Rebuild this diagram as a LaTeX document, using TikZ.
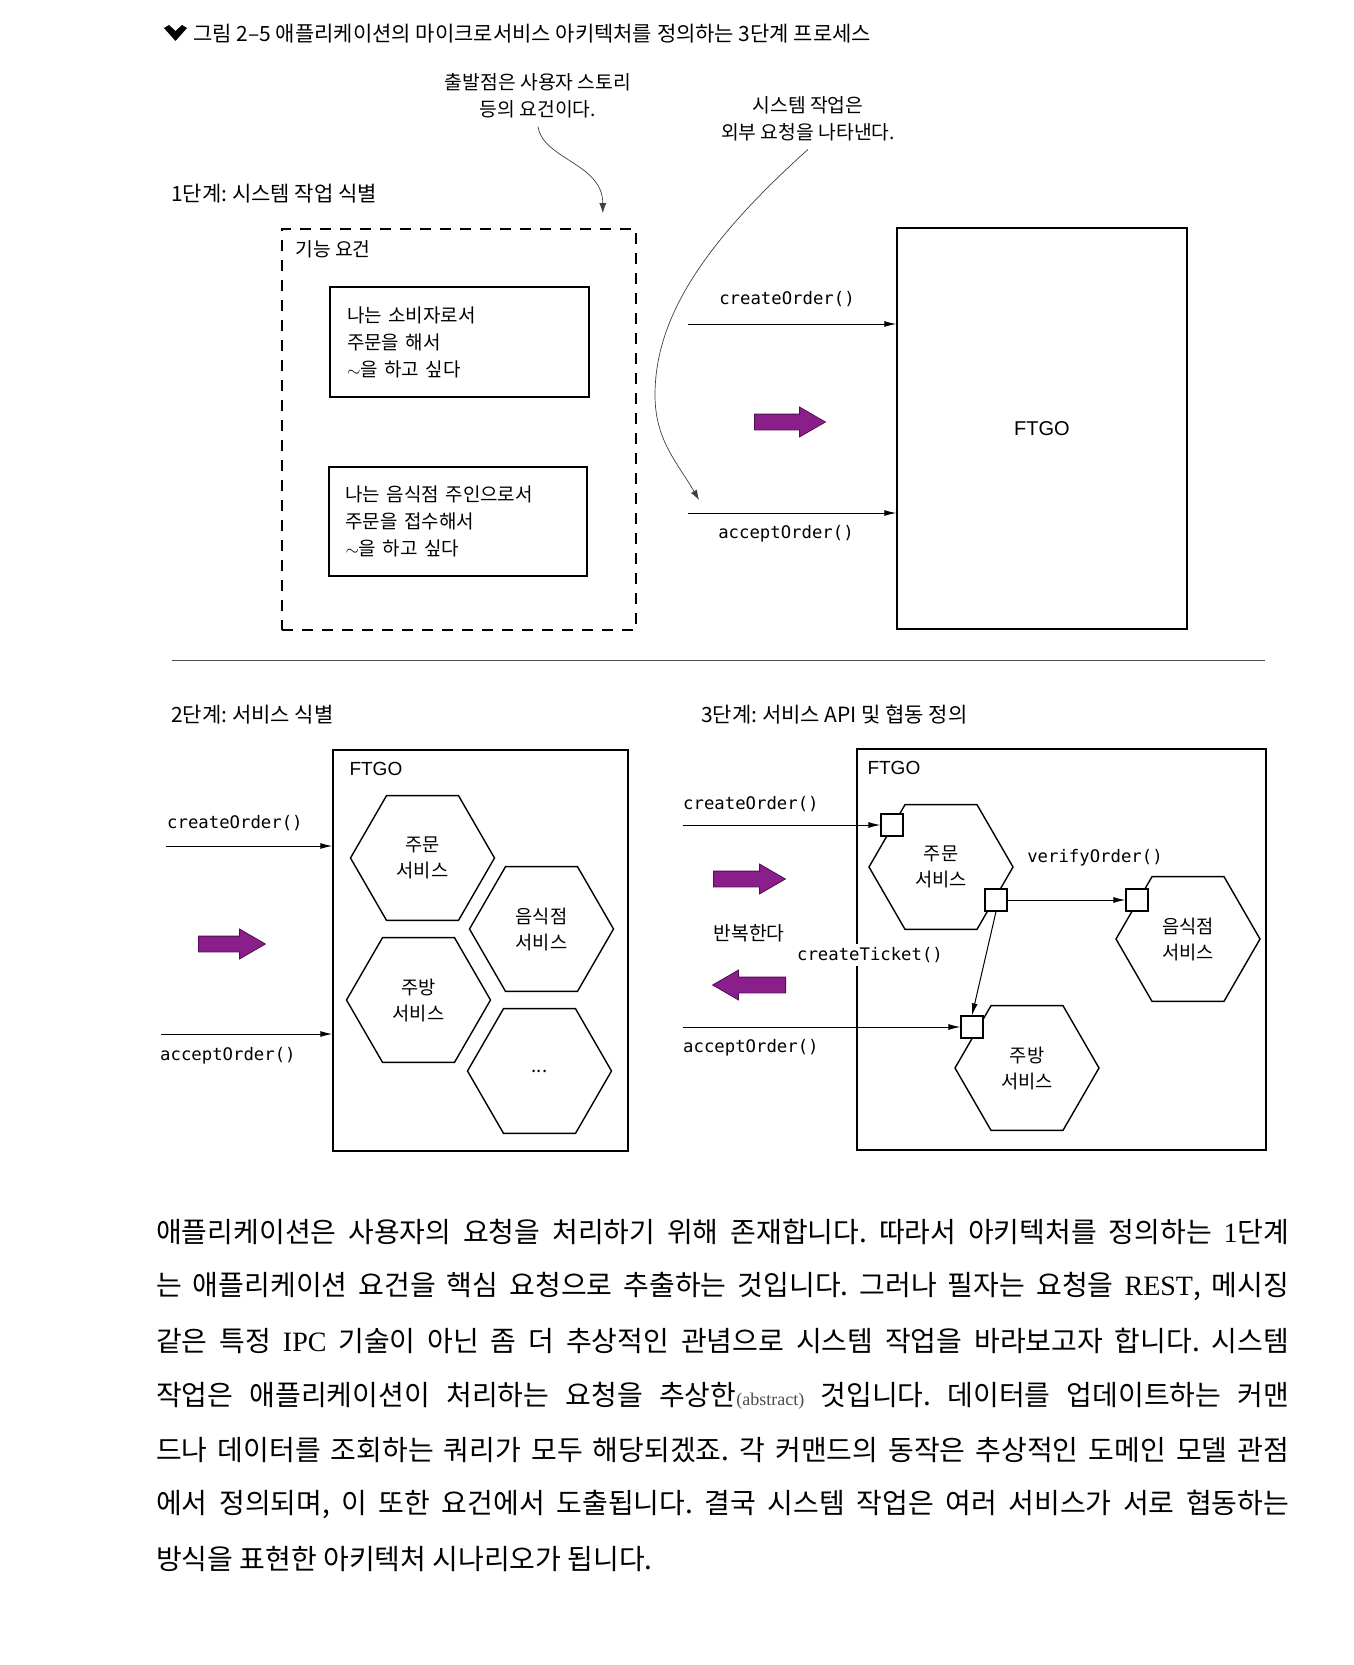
\documentclass[tikz,border=0pt]{standalone}
\usepackage{fontspec}
\setmainfont{Noto Sans CJK KR}
\newfontfamily\codefont{DejaVu Sans Mono}
\newfontfamily\ftgofont{Liberation Sans}
\newfontfamily\latinserif{Liberation Serif}
\usetikzlibrary{calc,shapes.geometric,shapes.arrows,arrows.meta}
\definecolor{spurple}{HTML}{8A1F8C}
\definecolor{spurpled}{HTML}{4F0E52}
\newcommand{\parline}[1]{\makebox[1133pt][s]{#1}}
\frenchspacing

\begin{document}
\begin{tikzpicture}[x=1pt,y=-1pt,
    BOX/.style={draw=black,line width=1.4pt,rectangle,inner sep=0pt},
    DBOX/.style={draw=black,line width=1.6pt,rectangle,dash pattern=on 11pt off 9pt},
    HEX/.style={draw=black,line width=1.4pt,regular polygon,regular polygon sides=6,minimum size=144pt,inner sep=0pt,align=center,font=\fontsize{18.7}{26}\selectfont},
    PORT/.style={draw=black,line width=1.2pt,fill=white,rectangle,minimum size=22pt,inner sep=0pt},
    AR/.style={-{Latex[length=12pt,width=6pt]},line width=1pt},
    NOTE/.style={-{Latex[length=10pt,width=7pt]},line width=0.7pt,draw=black!75},
    PUR/.style={single arrow,draw=spurpled,line width=0.8pt,fill=spurple,single arrow head extend=7pt,single arrow tip angle=60,inner sep=0pt,anchor=tail},
    CODE/.style={font=\codefont\fontsize{17.3}{20}\selectfont,inner sep=0pt},
    TXT/.style={font=\fontsize{21}{26}\selectfont,inner sep=0pt},
    SMALL/.style={font=\fontsize{19.3}{27}\selectfont,inner sep=0pt},
    PAR/.style={font=\fontsize{28}{32}\selectfont,inner sep=0pt}]
    \useasboundingbox (0,0) rectangle (1354,1665);
    \fill[white] (0,0) rectangle (1354,1665);
    % FIGURE CAPTION
    \fill (164,28) -- (169,25) -- (175.5,31) -- (182,25) -- (187,28) -- (175.5,41) -- cycle;
    \node[TXT,anchor=west] (caption) at (193,34) {그림 2–5 애플리케이션의 마이크로서비스 아키텍처를 정의하는 3단계 프로세스};
    % Callouts above step 1
    \node[SMALL,align=center] (note1) at (538,96) {출발점은 사용자 스토리\\등의 요건이다.};
    \node[SMALL,align=center] (note2) at (808,119) {시스템 작업은\\외부 요청을 나타낸다.};
    % STEP 1 : requirements -> system operations
    \node[TXT,anchor=west] (step1) at (171,194) {1단계: 시스템 작업 식별};
    \node[DBOX,minimum width=354pt,minimum height=401pt] (reqbox) at (459,429.5) {};
    \node[SMALL,anchor=west] (reqlbl) at ($(reqbox.north west)+(14,21)$) {기능 요건};
    \node[BOX,minimum width=259pt,minimum height=110pt,text width=225pt,align=left,font=\fontsize{19}{27}\selectfont] (story1) at (459.5,342) {나는 소비자로서\\주문을 해서\\$\sim$을 하고 싶다};
    \node[BOX,minimum width=258pt,minimum height=109pt,text width=225pt,align=left,font=\fontsize{19}{27}\selectfont] (story2) at (458,521.5) {나는 음식점 주인으로서\\주문을 접수해서\\$\sim$을 하고 싶다};
    \node[BOX,minimum width=290pt,minimum height=401pt,font=\ftgofont\fontsize{20}{24}\selectfont] (ftgo1) at (1042,428.5) {FTGO};
    \coordinate (in1a) at (688,324);
    \coordinate (in1b) at (688,513);
    \draw[AR] (in1a) -- (in1a -| ftgo1.west);
    \draw[AR] (in1b) -- (in1b -| ftgo1.west);
    \node[CODE] (lco1) at ($(in1a)+(99,-25)$) {createOrder()};
    \node[CODE] (lao1) at ($(in1b)+(98,21)$) {acceptOrder()};
    \node[PUR,minimum height=71pt] (big1) at (754,422) {\rule{0pt}{15pt}};
    % callout curves
    \coordinate (reqtip) at ($(reqbox.north east)+(-34,-15)$);
    \coordinate (optip) at (699,500);
    \draw[NOTE] ($(note1.south)+(0,8)$) .. controls +(5,33) and +(0,-50) .. (reqtip);
    \draw[NOTE] ($(note2.south)+(0,8)$) .. controls +(-107,96) and +(0,-75) .. (655,395) .. controls +(0,45) and +(-22,-38) .. (optip);
    % separator
    \draw[line width=1pt,black!70] (172,660) -- (1265,660);
    % STEP 2 : services
    \node[TXT,anchor=west] (step2) at (171,715) {2단계: 서비스 식별};
    \node[BOX,minimum width=295pt,minimum height=401pt] (ftgo2) at (480.5,950.5) {};
    \node[anchor=west,inner sep=0pt,font=\ftgofont\fontsize{19}{24}\selectfont] (ftgolbl2) at ($(ftgo2.north west)+(17,20)$) {FTGO};
    \node[HEX] (order2) at (422.5,858) {주문\\서비스};
    \node[HEX] (rest2) at (541.5,929) {음식점\\서비스};
    \node[HEX] (kitchen2) at (418.5,1000) {주방\\서비스};
    \node[HEX] (more2) at (539.5,1071) {...};
    \coordinate (in2a) at (166,846);
    \coordinate (in2b) at (161,1034);
    \draw[AR] (in2a) -- (in2a -| ftgo2.west);
    \draw[AR] (in2b) -- (in2b -| ftgo2.west);
    \node[CODE,anchor=west] (lco2) at ($(in2a)+(1,-23)$) {createOrder()};
    \node[CODE,anchor=west] (lao2) at ($(in2b)+(-1,22)$) {acceptOrder()};
    \node[PUR,minimum height=67pt] (big2) at (198,944) {\rule{0pt}{15pt}};
    % STEP 3 : APIs and collaboration
    \node[TXT,anchor=west] (step3) at (701,715) {3단계: 서비스 API 및 협동 정의};
    \node[BOX,minimum width=409pt,minimum height=401pt] (ftgo3) at (1061.5,949.5) {};
    \node[anchor=west,inner sep=0pt,font=\ftgofont\fontsize{19}{24}\selectfont] (ftgolbl3) at ($(ftgo3.north west)+(11,20)$) {FTGO};
    \node[HEX] (order3) at (941,867) {주문\\서비스};
    \node[HEX] (rest3) at (1188,939) {음식점\\서비스};
    \node[HEX] (kitchen3) at (1027,1068) {주방\\서비스};
    % ports
    \node[PORT] (pin) at (892,825) {};
    \node[PORT] (pout) at (996,900) {};
    \node[PORT] (prest) at (1137,900) {};
    \node[PORT] (pkit) at (972,1027) {};
    \coordinate (in3a) at (683,825);
    \coordinate (in3b) at (683,1027);
    \draw[AR] (in3a) -- (pin.west);
    \draw[AR] (in3b) -- (pkit.west);
    \draw[AR] (pout.east) -- (prest.west);
    \draw[AR] (pout.south) -- (pkit.north);
    \node[CODE,anchor=west] (lco3) at ($(in3a)+(0,-21)$) {createOrder()};
    \node[CODE,anchor=west] (lao3) at ($(in3b)+(0,21)$) {acceptOrder()};
    \node[CODE] (lvo3) at (1095,858) {verifyOrder()};
    \node[CODE,fill=white,inner xsep=2pt,inner ysep=3pt] (lct3) at (870,955) {createTicket()};
    \node[PUR,minimum height=72pt] (big3) at (713,879) {\rule{0pt}{15pt}};
    \node[SMALL] (repeat) at (749,933) {반복한다};
    \node[PUR,minimum height=73pt,shape border rotate=180] (big4) at (786,985) {\rule{0pt}{15pt}};
    % BODY TEXT
    \node[PAR,anchor=west] (par1) at (156,1232) {\parline{애플리케이션은 사용자의 요청을 처리하기 위해 존재합니다. 따라서 아키텍처를 정의하는 {\latinserif 1}단계}};
    \node[PAR,anchor=west] (par2) at ($(par1.west)+(0,54.5)$) {\parline{는 애플리케이션 요건을 핵심 요청으로 추출하는 것입니다. 그러나 필자는 요청을 {\latinserif REST}, 메시징}};
    \node[PAR,anchor=west] (par3) at ($(par2.west)+(0,54.5)$) {\parline{같은 특정 {\latinserif IPC} 기술이 아닌 좀 더 추상적인 관념으로 시스템 작업을 바라보고자 합니다. 시스템}};
    \node[PAR,anchor=west] (par4) at ($(par3.west)+(0,54.5)$) {\parline{작업은 애플리케이션이 처리하는 요청을 추상한{\latinserif\fontsize{18}{20}\selectfont\color{black!70}(abstract)} 것입니다. 데이터를 업데이트하는 커맨}};
    \node[PAR,anchor=west] (par5) at ($(par4.west)+(0,54.5)$) {\parline{드나 데이터를 조회하는 쿼리가 모두 해당되겠죠. 각 커맨드의 동작은 추상적인 도메인 모델 관점}};
    \node[PAR,anchor=west] (par6) at ($(par5.west)+(0,54.5)$) {\parline{에서 정의되며, 이 또한 요건에서 도출됩니다. 결국 시스템 작업은 여러 서비스가 서로 협동하는}};
    \node[PAR,anchor=west] (par7) at ($(par6.west)+(0,54.5)$) {방식을 표현한 아키텍처 시나리오가 됩니다.};
\end{tikzpicture}
\end{document}
